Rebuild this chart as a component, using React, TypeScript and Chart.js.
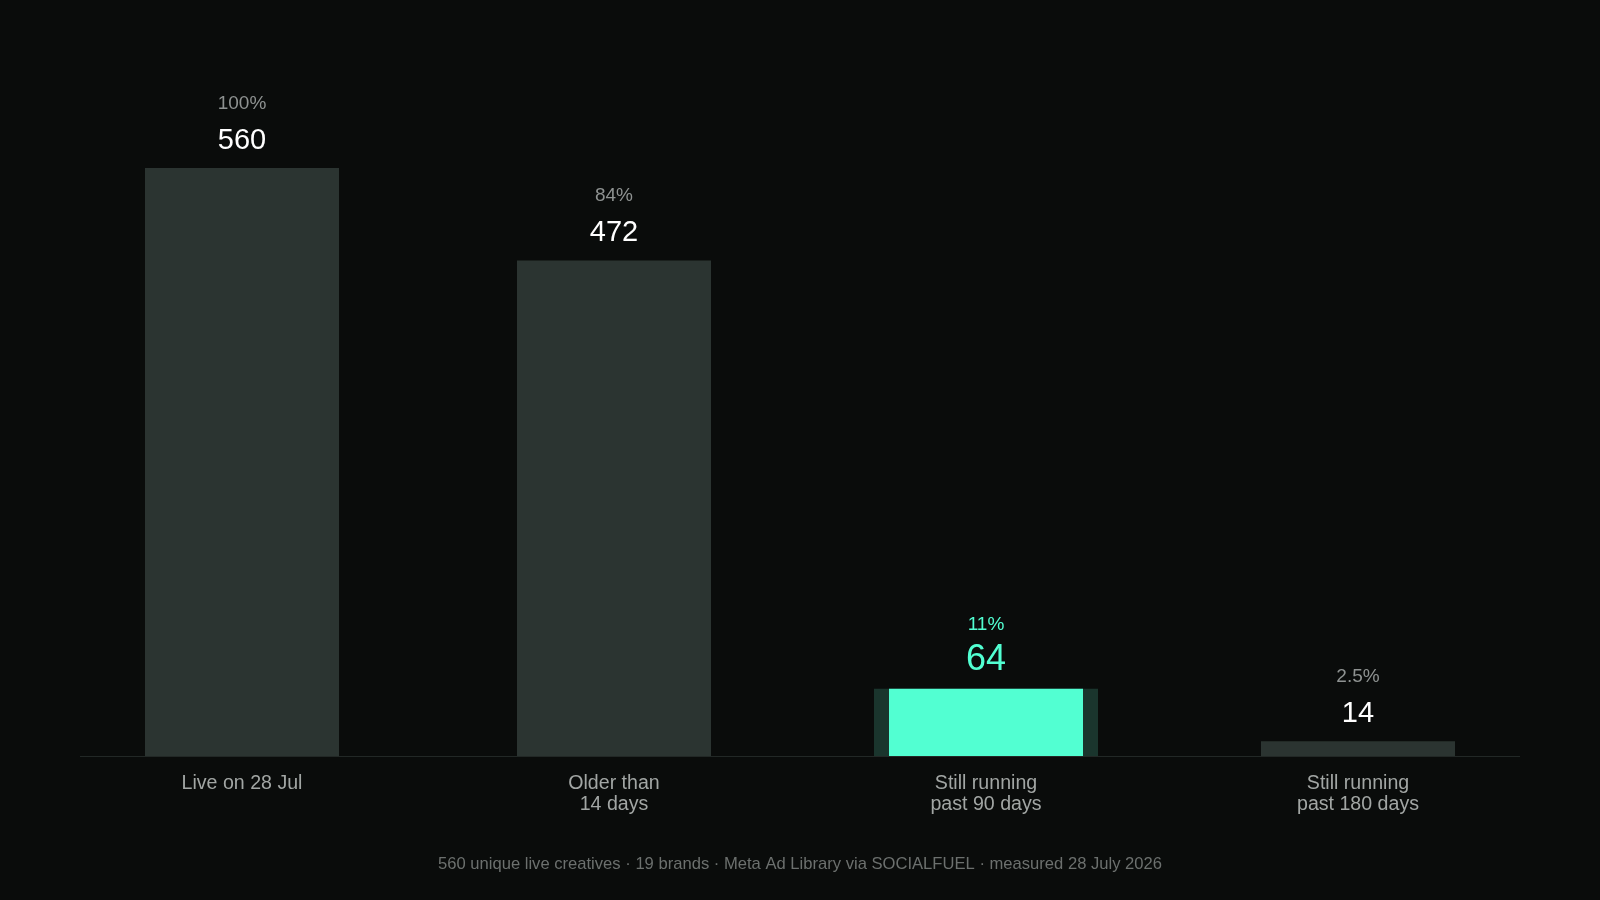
import React, { useEffect, useRef } from "react";
import { Chart, registerables } from "chart.js";

Chart.register(...registerables);

const categories: string[][] = [
  ["Live on 28 Jul"],
  ["Older than", "14 days"],
  ["Still running", "past 90 days"],
  ["Still running", "past 180 days"],
];
const values: number[] = [560, 472, 64, 14];
const percents: string[] = ["100%", "84%", "11%", "2.5%"];
const highlightIndex = 2;
const footer =
  "560 unique live creatives · 19 brands · Meta Ad Library via SOCIALFUEL · measured 28 July 2026";

const BG = "#0a0c0b";
const BAR = "#2b3431";
const HIGHLIGHT = "#52ffd2";
const GLOW = "#1a352d";
const FONT = '"Liberation Sans", Arial, Helvetica, sans-serif';

export default function App() {
  const ref = useRef<HTMLCanvasElement | null>(null);

  useEffect(() => {
    document.body.style.margin = "0";
    document.body.style.background = BG;
    const canvas = ref.current;
    if (!canvas) return;

    const labelsPlugin = {
      id: "customLabels",
      beforeDraw(chart: any) {
        const { ctx, width, height } = chart;
        ctx.save();
        ctx.fillStyle = BG;
        ctx.fillRect(0, 0, width, height);
        ctx.restore();
      },
      beforeDatasetsDraw(chart: any) {
        const { ctx, chartArea } = chart;
        const yBase = chart.scales.y.getPixelForValue(0);
        ctx.save();
        ctx.fillStyle = "#222826";
        ctx.fillRect(chartArea.left + 24, Math.round(yBase), chartArea.right - chartArea.left - 48, 1);
        ctx.restore();
      },
      afterDatasetsDraw(chart: any) {
        const { ctx } = chart;
        const meta = chart.getDatasetMeta(0);
        const xScale = chart.scales.x;
        ctx.save();
        ctx.textAlign = "center";
        ctx.textBaseline = "alphabetic";
        meta.data.forEach((bar: any, i: number) => {
          const x = bar.x;
          const top = bar.y;
          const hl = i === highlightIndex;
          ctx.fillStyle = hl ? HIGHLIGHT : "#ffffff";
          ctx.font = `${hl ? 36 : 29}px ${FONT}`;
          ctx.fillText(String(values[i]), x, top - 19);
          ctx.fillStyle = hl ? HIGHLIGHT : "#8e9291";
          ctx.font = `19px ${FONT}`;
          ctx.fillText(percents[i], x, top - 59);
        });
        categories.forEach((lines, i) => {
          const x = xScale.getPixelForValue(i);
          ctx.fillStyle = "#a2a6a4";
          ctx.font = `19.6px ${FONT}`;
          lines.forEach((ln, j) => {
            ctx.fillText(ln, x, 789 + j * 21);
          });
        });
        ctx.fillStyle = "#6c706e";
        ctx.font = `16.6px ${FONT}`;
        ctx.fillText(footer, chart.width / 2, 869);
        ctx.restore();
      },
    };

    const glowData = values.map((v, i) => (i === highlightIndex ? v : null));

    const chart = new Chart(canvas, {
      type: "bar",
      data: {
        labels: categories.map((c) => c.join(" ")),
        datasets: [
          {
            data: values,
            backgroundColor: values.map((_, i) => (i === highlightIndex ? HIGHLIGHT : BAR)),
            borderWidth: 0,
            categoryPercentage: 1,
            barPercentage: 194 / 372,
            grouped: false,
            order: 0,
          } as any,
          {
            data: glowData,
            backgroundColor: GLOW,
            borderWidth: 0,
            categoryPercentage: 1,
            barPercentage: 224 / 372,
            grouped: false,
            order: 1,
          } as any,
        ],
      },
      options: {
        responsive: false,
        animation: false,
        devicePixelRatio: 1,
        layout: { padding: { left: 56, right: 56, top: 126, bottom: 144 } },
        plugins: {
          legend: { display: false },
          tooltip: { enabled: false },
        },
        scales: {
          x: { display: false },
          y: { display: false, min: 0, max: 600 },
        },
      },
      plugins: [labelsPlugin],
    });

    return () => chart.destroy();
  }, []);

  return (
    <div style={{ width: 1600, height: 900, background: BG }}>
      <canvas ref={ref} width={1600} height={900} style={{ display: "block" }} />
    </div>
  );
}
